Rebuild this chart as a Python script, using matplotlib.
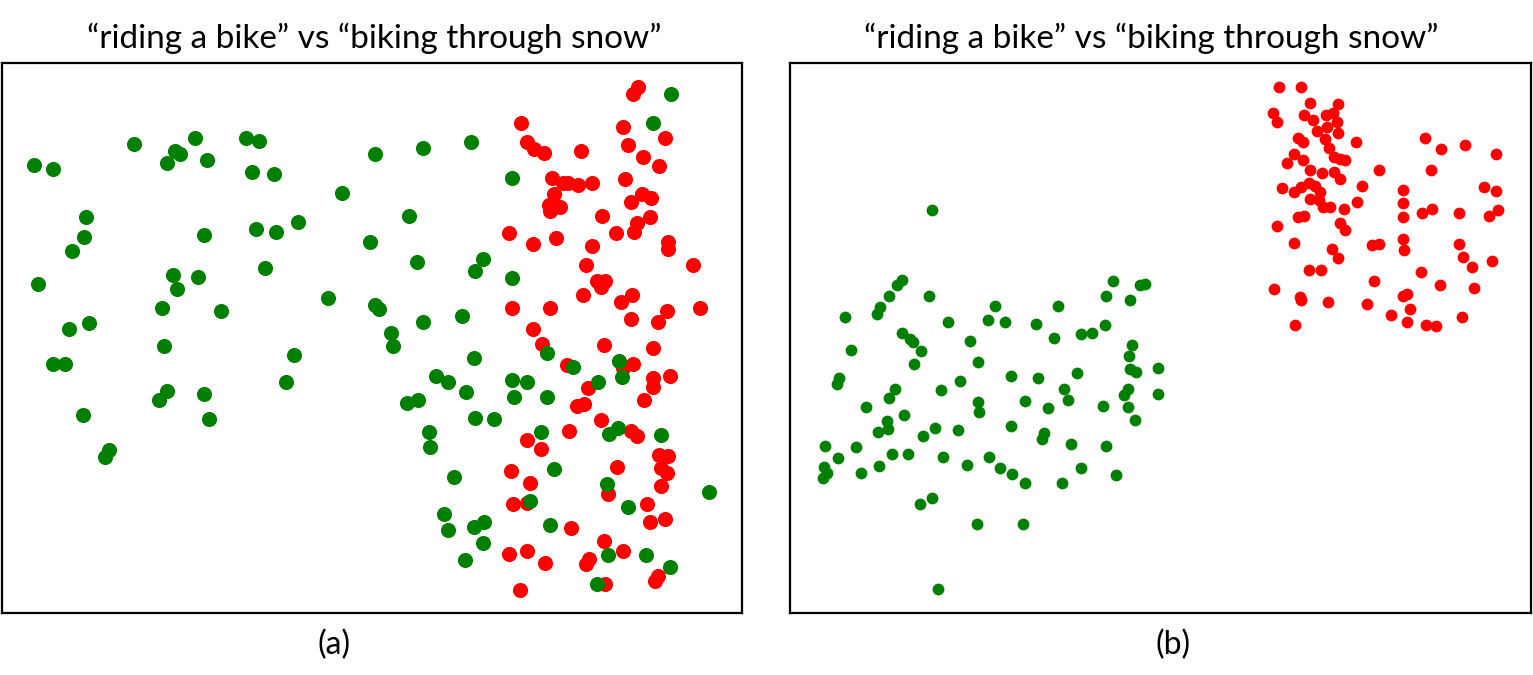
import matplotlib
matplotlib.use("Agg")
import matplotlib.pyplot as plt

W, H = 1533, 675

# Panel (a) points (image pixel coordinates inside the frame)
a_green_x = [34, 53, 134, 175, 180, 167, 195, 207, 246, 259, 252, 274, 375, 342, 86, 84, 72, 204, 256, 276, 298, 370,
             38, 173, 177, 198, 265, 328, 375, 379, 162, 221, 69, 89, 164, 53, 65, 294, 286, 167, 159, 204, 209, 83,
             109, 105, 671, 653, 423, 471, 512, 409, 417, 483, 475, 512, 423, 462, 391,
             393, 474, 547, 573, 619, 622, 598, 436, 448, 466, 407, 418, 512, 527, 514, 547, 475, 494, 429, 430, 541,
             618, 609, 661, 454, 554, 607, 530, 709, 628, 444, 448, 474, 484, 483, 465, 550, 608, 646, 670, 597]
a_green_y = [165, 169, 144, 151, 154, 163, 138, 160, 138, 141, 172, 174, 154, 193, 217, 237, 251, 235, 229, 232, 222, 242,
             284, 275, 289, 277, 268, 298, 305, 309, 308, 311, 329, 323, 346, 364, 364, 355, 382, 391, 400, 394, 419, 415,
             450, 457, 94, 123, 148, 142, 178, 216, 262, 259, 271, 278, 322, 316, 333,
             346, 358, 353, 367, 361, 377, 382, 376, 382, 392, 403, 400, 380, 382, 397, 397, 418, 419, 432, 447, 432,
             428, 434, 435, 477, 469, 484, 501, 492, 507, 514, 530, 527, 522, 543, 560, 525, 555, 555, 567, 584]
a_red_x = [638, 633, 521, 623, 665, 527, 534, 544, 581, 628, 643, 659, 552, 563, 568, 578, 592, 625, 554, 549, 560, 550,
           631, 642, 651, 602, 650, 637, 634, 616, 509, 533, 556, 592, 668, 668, 693, 586, 597, 605, 601, 583, 632, 621,
           512, 550, 700, 667, 658, 631, 533,
           542, 604, 653, 567, 633, 623, 670, 653, 653, 644, 588, 577, 584, 601, 569, 631, 637, 527, 541, 659, 668, 661,
           667, 661, 617, 608, 511, 530, 513, 527, 647, 650, 665, 571, 604, 623, 509, 527, 545, 589, 586, 658, 655, 605, 520]
a_red_y = [87, 94, 123, 127, 138, 142, 149, 153, 151, 145, 157, 166, 178, 183, 183, 185, 183, 179, 194, 205, 207, 211,
           202, 194, 198, 216, 217, 223, 232, 233, 233, 244, 238, 246, 242, 249, 265, 265, 281, 281, 287, 295, 295, 302,
           308, 308, 308, 311, 322, 319, 329,
           344, 345, 348, 365, 364, 368, 376, 378, 387, 400, 388, 406, 404, 420, 431, 431, 436, 440, 449, 455, 456, 468,
           473, 486, 467, 494, 471, 483, 504, 503, 504, 522, 519, 528, 541, 551, 554, 551, 563, 559, 564, 576, 581, 584, 590]

# Panel (b) points
b_green_x = [932, 845, 877, 880, 889, 897, 902, 929, 948, 995, 988, 1005, 1036, 1058, 1106, 1113, 1130, 1140, 1145, 1105,
             1081, 1092, 1054, 970, 902, 910,
             913, 921, 914, 851, 978, 1132, 1129, 1130, 1136, 1158, 1077, 1038, 1011, 960, 941, 895, 889, 839, 837, 866,
             1064, 1068, 1128, 1124, 1158, 1025, 1048, 978, 979, 1103, 1128, 1135, 904, 887, 888, 878, 935, 958, 1011,
             923, 1044, 1042, 825, 856, 838, 892, 908, 943, 1071, 1106, 824, 827, 823, 861, 879, 967, 989, 1000, 1012,
             1025, 1062, 1081, 1116, 920, 932, 977, 1023, 938]
b_green_y = [210, 317, 314, 307, 296, 285, 280, 296, 322, 306, 320, 322, 324, 306, 296, 281, 300, 285, 284, 325,
             334, 333, 338, 341, 333, 339,
             342, 351, 364, 350, 362, 345, 356, 369, 372, 368, 373, 378, 376, 381, 390, 389, 398, 378, 384, 407,
             389, 400, 389, 395, 394, 401, 408, 402, 412, 406, 407, 420, 415, 421, 429, 432, 428, 430, 426,
             436, 433, 439, 446, 447, 458, 454, 454, 457, 444, 446, 467, 473, 478, 473, 466, 465, 457, 468, 474,
             483, 483, 468, 475, 504, 498, 524, 524, 589]
b_red_x = [1279, 1301, 1310, 1338, 1273, 1277, 1304, 1313, 1326, 1333, 1337, 1327, 1317, 1338, 1298, 1303, 1325, 1356,
           1329, 1294, 1303, 1287, 1334, 1340, 1345, 1310, 1322, 1334, 1340, 1379, 1282, 1294, 1301, 1309, 1315, 1320,
           1310, 1319, 1323, 1330, 1344, 1357, 1362, 1298, 1304, 1277, 1340, 1345, 1294, 1332, 1338, 1372, 1379, 1403,
           1403, 1403, 1403, 1404, 1425, 1441, 1465, 1496, 1431, 1484, 1496, 1422, 1432, 1459, 1489, 1498, 1459, 1463,
           1472, 1492, 1421, 1440, 1474, 1374, 1309, 1321, 1274, 1300, 1301, 1328, 1367, 1403, 1407, 1410, 1391, 1407,
           1426, 1436, 1462, 1295]
b_red_y = [87, 87, 103, 104, 113, 122, 115, 120, 115, 113, 122, 127, 131, 133, 138, 142, 139, 142,
           148, 154, 160, 163, 157, 159, 160, 170, 173, 172, 179, 170, 188, 192, 187, 183, 186, 192,
           199, 200, 207, 207, 209, 202, 186, 217, 216, 226, 223, 230, 243, 249, 258, 245, 244, 190,
           203, 217, 239, 250, 138, 149, 145, 154, 170, 187, 191, 213, 209, 213, 216, 210, 244, 257,
           267, 261, 272, 285, 288, 281, 270, 270, 289, 297, 300, 302, 304, 296, 294, 309, 315, 322,
           325, 326, 317, 325]

titles = ["\u201criding a bike\u201d vs \u201cbiking through snow\u201d",
          "\u201criding a bike\u201d vs \u201cbiking through snow\u201d"]
sublabels = ["(a)", "(b)"]

GREEN = "#008000"
RED = "#ff0000"

fig = plt.figure(figsize=(W / 100, H / 100), dpi=100)

def make_ax(x0, y0, x1, y1):
    ax = fig.add_axes([x0 / W, 1 - y1 / H, (x1 - x0) / W, (y1 - y0) / H])
    ax.set_xlim(x0, x1)
    ax.set_ylim(y1, y0)
    ax.set_xticks([])
    ax.set_yticks([])
    for s in ax.spines.values():
        s.set_linewidth(1.6)
        s.set_color("black")
    return ax

axa = make_ax(2, 63, 742, 613)
axa.scatter(a_red_x, a_red_y, s=118, c=RED, linewidths=0, zorder=2)
axa.scatter(a_green_x, a_green_y, s=118, c=GREEN, linewidths=0, zorder=3)

axb = make_ax(790, 63, 1531, 613)
axb.scatter(b_red_x, b_red_y, s=72, c=RED, linewidths=0, zorder=2)
axb.scatter(b_green_x, b_green_y, s=72, c=GREEN, linewidths=0, zorder=3)

font = ["Lato", "DejaVu Sans"]
fig.text(374 / W, 1 - 38 / H, titles[0], ha="center", va="center", fontsize=24, family=font)
fig.text(1151 / W, 1 - 38 / H, titles[1], ha="center", va="center", fontsize=24, family=font)
fig.text(334 / W, 1 - 645 / H, sublabels[0], ha="center", va="center", fontsize=23, family=font)
fig.text(1173 / W, 1 - 645 / H, sublabels[1], ha="center", va="center", fontsize=23, family=font)

fig.savefig("out.png", dpi=100, facecolor="white")
